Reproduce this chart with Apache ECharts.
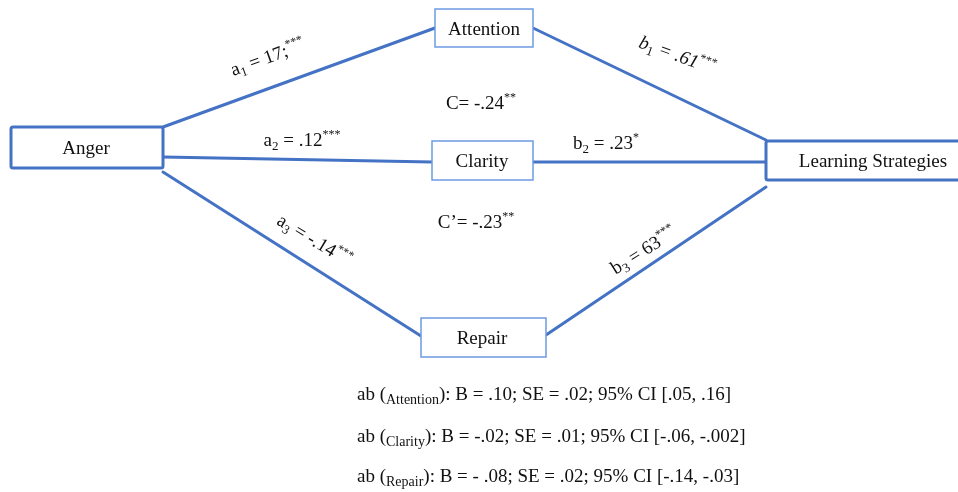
<!DOCTYPE html>
<html><head><meta charset="utf-8">
<script src="https://cdn.jsdelivr.net/npm/echarts@6/dist/echarts.min.js"></script>
<style>html,body{margin:0;padding:0;background:#fff}#c{width:958px;height:492px}</style>
</head><body><div id="c"></div>
<script>
// ---------- data ----------
const nodeNames = ['Anger', 'Attention', 'Clarity', 'Repair', 'Learning Strategies'];
const pathNames = ['a1', 'a2', 'a3', 'b1', 'b2', 'b3'];
const pathValues = ['17;', '.12', '-.14', '.61', '.23', '63'];
const pathSig = ['***', '***', '***', '***', '*', '***'];
const effectNames = ['C', 'C’'];
const effectValues = ['-.24', '-.23'];
const effectSig = ['**', '**'];
const indirectNames = ['Attention', 'Clarity', 'Repair'];
const indirectB = ['.10', '-.02', '- .08'];
const indirectSE = ['.02', '.01', '.02'];
const indirectCI = ['[.05, .16]', '[-.06, -.002]', '[-.14, -.03]'];

// ---------- layout (positions / styles) ----------
const BLUE = '#4472C4', THIN = '#6C9BE3', INK = '#111';
const SERIF = '"Liberation Serif","DejaVu Serif",serif';
const boxLayout = [
  [11, 127, 163, 168, 3],
  [435, 9, 533, 47, 1.5],
  [432, 141, 533, 180, 1.5],
  [421, 318, 546, 357, 1.5],
  [766, 141, 985, 180, 3]
];
const boxTextX = [86, 484, 482, 482, 873];
const edgeLayout = [
  [163, 127, 435, 28],
  [163, 157, 432, 162],
  [163, 172, 421, 336],
  [533, 28, 766, 140],
  [533, 162, 766, 162],
  [546, 335, 766, 187]
];
const edgeLabelLayout = [
  [268, 58, 20, false],
  [302, 141, 0, false],
  [314, 241, -31, false],
  [677, 56, -20, true],
  [606, 144, 0, false],
  [644, 251, 32, false]
];
const effectLayout = [[481, 104], [476, 223]];
const indirectLayout = [[357, 395], [357, 437], [357, 477]];

const rich = {
  n: { fontSize: 19, fontFamily: SERIF, fill: INK, lineHeight: 24 },
  ni: { fontSize: 19, fontFamily: SERIF, fontStyle: 'italic', fill: INK, lineHeight: 24 },
  sub: { fontSize: 13, fontFamily: SERIF, fill: INK, lineHeight: 13, verticalAlign: 'bottom' },
  sup: { fontSize: 12, fontFamily: SERIF, fill: INK, lineHeight: 12, verticalAlign: 'top' },
  m: { fontSize: 19, fontFamily: SERIF, fill: INK, lineHeight: 24 },
  s: { fontSize: 14, fontFamily: SERIF, fill: INK, lineHeight: 14, verticalAlign: 'bottom' }
};

const chart = echarts.init(document.getElementById('c'), null, { renderer: 'canvas' });

const boxData = nodeNames.map((n, i) => [boxLayout[i][0], boxLayout[i][1], boxLayout[i][2], boxLayout[i][3], i]);
const edgeData = pathNames.map((n, i) => edgeLayout[i].concat([i]));
const labelData = pathNames.map((n, i) => [edgeLabelLayout[i][0], edgeLabelLayout[i][1], i]);
const effectData = effectNames.map((n, i) => [effectLayout[i][0], effectLayout[i][1], i]);
const indirectData = indirectNames.map((n, i) => [indirectLayout[i][0], indirectLayout[i][1], i]);

chart.setOption({
  animation: false,
  backgroundColor: '#fff',
  grid: { left: 0, right: 0, top: 0, bottom: 0 },
  xAxis: { type: 'value', min: 0, max: 958, show: false },
  yAxis: { type: 'value', min: 0, max: 492, inverse: true, show: false },
  series: [
    {
      type: 'custom', name: 'paths', data: edgeData, clip: false,
      renderItem: (params, api) => {
        const p1 = api.coord([api.value(0), api.value(1)]);
        const p2 = api.coord([api.value(2), api.value(3)]);
        return { type: 'line', shape: { x1: p1[0], y1: p1[1], x2: p2[0], y2: p2[1] },
          style: { stroke: BLUE, lineWidth: 3, lineCap: 'round' } };
      }
    },
    {
      type: 'custom', name: 'nodes', data: boxData, clip: false,
      renderItem: (params, api) => {
        const i = api.value(4);
        const p1 = api.coord([api.value(0), api.value(1)]);
        const p2 = api.coord([api.value(2), api.value(3)]);
        const lw = boxLayout[i][4];
        const tp = api.coord([boxTextX[i], (api.value(1) + api.value(3)) / 2 + 2]);
        return { type: 'group', children: [
          { type: 'rect', shape: { x: p1[0], y: p1[1], width: p2[0] - p1[0], height: p2[1] - p1[1], r: lw > 2 ? 2 : 0 },
            style: { fill: '#fff', stroke: lw > 2 ? BLUE : THIN, lineWidth: lw } },
          { type: 'text', x: tp[0], y: tp[1],
            style: { text: nodeNames[i], fontFamily: SERIF, fontSize: 19, fill: INK, align: 'center', verticalAlign: 'middle' } }
        ] };
      }
    },
    {
      type: 'custom', name: 'coefficients', data: labelData, clip: false,
      renderItem: (params, api) => {
        const i = api.value(2);
        const p = api.coord([api.value(0), api.value(1)]);
        const L = edgeLabelLayout[i];
        const st = L[3] ? 'ni' : 'n';
        const nm = pathNames[i];
        const txt = `{${st}|${nm[0]}}{sub|${nm.slice(1)}}{${st}| = ${pathValues[i]}}{sup|${pathSig[i]}}`;
        return { type: 'text', x: p[0], y: p[1], rotation: L[2] * Math.PI / 180,
          style: { text: txt, rich: rich, align: 'center', verticalAlign: 'middle' } };
      }
    },
    {
      type: 'custom', name: 'effects', data: effectData, clip: false,
      renderItem: (params, api) => {
        const i = api.value(2);
        const p = api.coord([api.value(0), api.value(1)]);
        const txt = `{m|${effectNames[i]}= ${effectValues[i]}}{sup|${effectSig[i]}}`;
        return { type: 'text', x: p[0], y: p[1],
          style: { text: txt, rich: rich, align: 'center', verticalAlign: 'middle' } };
      }
    },
    {
      type: 'custom', name: 'indirect', data: indirectData, clip: false,
      renderItem: (params, api) => {
        const i = api.value(2);
        const p = api.coord([api.value(0), api.value(1)]);
        const txt = `{m|ab (}{s|${indirectNames[i]}}{m|): B = ${indirectB[i]}; SE = ${indirectSE[i]}; 95% CI ${indirectCI[i]}}`;
        return { type: 'text', x: p[0], y: p[1],
          style: { text: txt, rich: rich, align: 'left', verticalAlign: 'middle' } };
      }
    }
  ]
});
</script></body></html>
